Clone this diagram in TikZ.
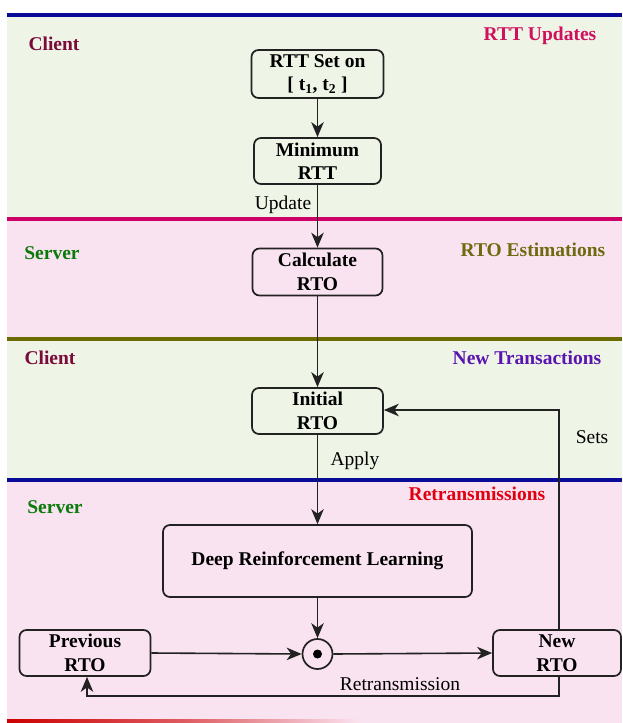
\documentclass[tikz,border=0pt]{standalone}
\usepackage{fontspec}
\setmainfont{Liberation Serif}
\usetikzlibrary{arrows.meta,shapes.geometric}
\definecolor{greenbg}{HTML}{EEF4E6}
\definecolor{pinkbg}{HTML}{FAE3F0}
\definecolor{lineblue}{HTML}{0A0A99}
\definecolor{linemag}{HTML}{CC0066}
\definecolor{lineolive}{HTML}{6B6B00}
\definecolor{linered}{HTML}{CC0000}
\definecolor{txtmaroon}{HTML}{7A0A3A}
\definecolor{txtmag}{HTML}{D0105E}
\definecolor{txtgreen}{HTML}{0A7A0A}
\definecolor{txtolive}{HTML}{6E6A10}
\definecolor{txtpurple}{HTML}{5A14B0}
\definecolor{txtred}{HTML}{E00010}
\definecolor{ink}{HTML}{222222}
\tikzset{
  base/.style={font=\fontsize{19.5}{23.5}\selectfont},
  rbox/.style={base, draw=ink, line width=1.7pt, rounded corners=7pt, fill=none,
     align=center, font=\fontsize{19.5}{23.5}\selectfont\bfseries, inner sep=0pt},
  lane/.style={base, font=\fontsize{19.5}{23.5}\selectfont\bfseries, inner sep=0pt},
  lbl/.style={base, inner sep=0pt},
  arr/.style={draw=ink, line width=1.6pt, -{Stealth[length=15pt 0,width=12.5pt 0,inset=4.5pt 0]}},
  band/.style={line width=3.2pt}
}
\begin{document}
\begin{tikzpicture}[x=1pt,y=-1pt]
\useasboundingbox (0,0) rectangle (622,723);
% bands
\fill[greenbg] (7,14) rectangle (622,219);
\fill[pinkbg] (7,219) rectangle (622,339);
\fill[greenbg] (7,339) rectangle (622,480);
\fill[pinkbg] (7,480) rectangle (622,723);
\draw[band, lineblue] (7,15) -- (622,15);
\draw[band, linemag] (7,219) -- (622,219);
\draw[band, lineolive] (7,339) -- (622,339);
\draw[band, lineblue] (7,480) -- (622,480);
\shade[left color=linered, right color=pinkbg, middle color=linered!60!pinkbg] (7,719) rectangle (360,723);
% lane labels
\node[lane, text=txtmaroon] (c1) at (54,44) {Client};
\node[lane, text=txtmag] (t1) at (540,36) {RTT Updates};
\node[lane, text=txtgreen] (s1) at (52,253) {Server};
\node[lane, text=txtolive] (t2) at (533,250) {RTO Estimations};
\node[lane, text=txtmaroon] (c2) at (50,358) {Client};
\node[lane, text=txtpurple] (t3) at (527,358) {New Transactions};
\node[lane, text=txtred] (t4) at (477,494) {Retransmissions};
\node[lane, text=txtgreen] (s2) at (55,507) {Server};
% boxes
\node[rbox, minimum width=132pt, minimum height=48pt] (rtt) at (317.5,74) {RTT Set on\\{[} t$_{\mathbf 1}$, t$_{\mathbf 2}$ ]};
\node[rbox, minimum width=127pt, minimum height=46pt] (min) at (317.5,161) {Minimum\\RTT};
\node[rbox, minimum width=130pt, minimum height=47pt] (calc) at (317.5,272) {Calculate\\RTO};
\node[rbox, minimum width=131pt, minimum height=46pt] (init) at (317.5,411) {Initial\\RTO};
\node[rbox, minimum width=309pt, minimum height=72pt] (drl) at (317.5,561) {Deep Reinforcement Learning};
\node[draw=ink, line width=1.7pt, circle, minimum size=30pt, inner sep=0pt] (dot) at (317.5,654) {};
\fill[black] (dot.center) circle (4.5pt);
\node[rbox, minimum width=131pt, minimum height=46pt] (prev) at (85,653) {Previous\\RTO};
\node[rbox, minimum width=128pt, minimum height=46pt] (new) at (557,653) {New\\RTO};
% connectors
\draw[arr] (rtt.south) -- (min.north);
\draw[arr] (min.south) -- (calc.north);
\draw[arr] (calc.south) -- (init.north);
\draw[arr] (init.south) -- (drl.north);
\draw[arr] (drl.south) -- (dot.north);
\draw[arr] (prev.east) -- (dot.west);
\draw[arr] (dot.east) -- (new.west);
\coordinate (up) at (559,410);
\draw[arr] (new.north -| up) -- (up) -- (init.east |- up);
\coordinate (lowR) at (559,696);
\coordinate (lowL) at (87,696);
\draw[arr] (new.south -| lowR) -- (lowR) -- (lowL) -- (prev.south -| lowL);
% connector labels
\node[lbl] (lu) at (283,205) {Update};
\node[lbl] (la) at (355,461) {Apply};
\node[lbl] (ls) at (592,437) {Sets};
\node[lbl] (lr) at (400,684) {Retransmission};
\end{tikzpicture}
\end{document}
